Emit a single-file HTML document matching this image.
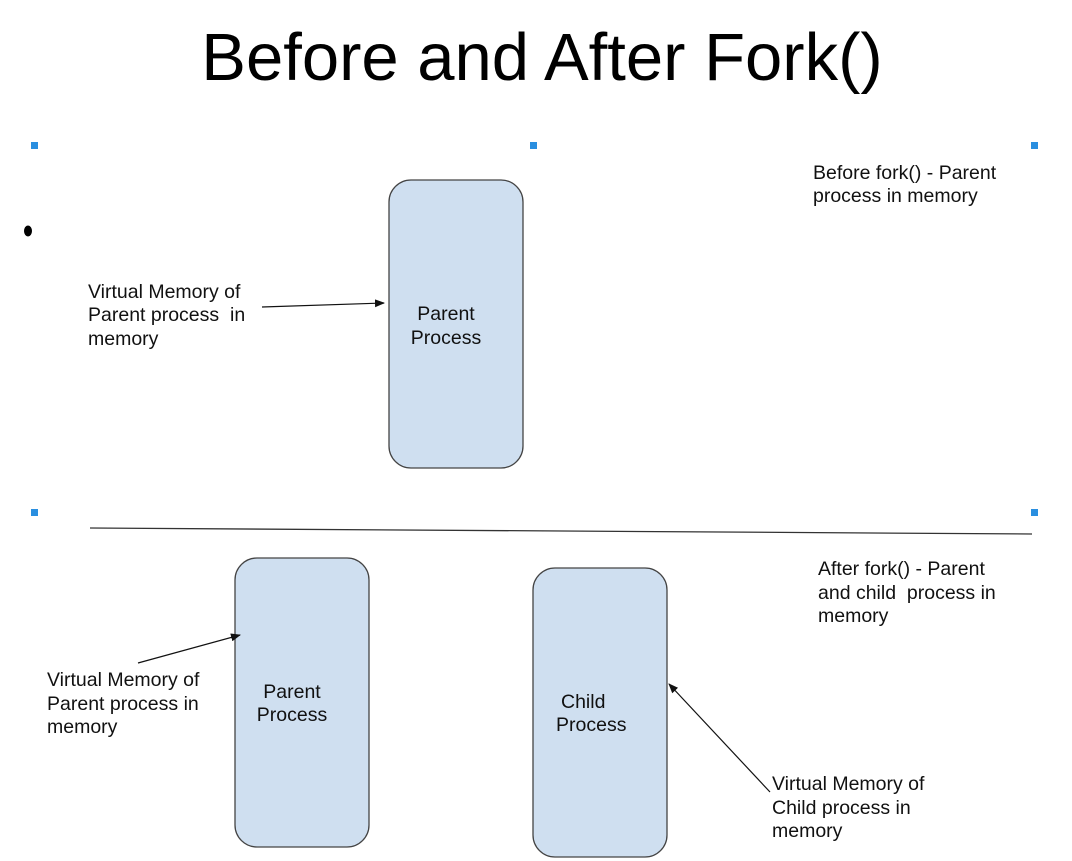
<!DOCTYPE html>
<html><head><style>html,body{margin:0;padding:0;background:#fff;width:1072px;height:861px;overflow:hidden}</style></head><body>
<svg width="1072" height="861" viewBox="0 0 1072 861" xmlns="http://www.w3.org/2000/svg" font-family="Liberation Sans, sans-serif">
<defs><marker id="a" markerWidth="10" markerHeight="8" refX="9" refY="4" orient="auto" markerUnits="userSpaceOnUse"><path d="M0,0 L10,4 L0,8 z" fill="#111"/></marker></defs>
<text x="542" y="80" font-size="67" text-anchor="middle" fill="#000">Before and After Fork()</text>
<g fill="#2a8fe0"><rect x="31" y="142" width="7" height="7"/><rect x="530" y="142" width="7" height="7"/><rect x="1031" y="142" width="7" height="7"/><rect x="31" y="509" width="7" height="7"/><rect x="1031" y="509" width="7" height="7"/></g>
<ellipse cx="28" cy="231" rx="4" ry="5.5" fill="#000"/>
<g fill="#cfdff0" stroke="#444" stroke-width="1.3">
<rect x="389" y="180" width="134" height="288" rx="22"/>
<rect x="235" y="558" width="134" height="289" rx="22"/>
<rect x="533" y="568" width="134" height="289" rx="22"/>
</g>
<line x1="90" y1="528" x2="1032" y2="534" stroke="#333" stroke-width="1.3"/>
<g stroke="#111" stroke-width="1.2" marker-end="url(#a)">
<line x1="262" y1="307" x2="384" y2="303"/>
<line x1="138" y1="663" x2="240" y2="635"/>
<line x1="770" y1="792" x2="669" y2="684"/>
</g>
<g font-size="19.5" fill="#111">
<text x="88" y="298">Virtual Memory of</text><text x="88" y="321">Parent process&#160; in</text><text x="88" y="345">memory</text>
<text x="446" y="320" text-anchor="middle">Parent</text><text x="446" y="344" text-anchor="middle">Process</text>
<text x="813" y="179">Before fork() - Parent</text><text x="813" y="202">process in memory</text>
<text x="818" y="575">After fork() - Parent</text><text x="818" y="599">and child&#160; process in</text><text x="818" y="622">memory</text>
<text x="47" y="686">Virtual Memory of</text><text x="47" y="710">Parent process in</text><text x="47" y="733">memory</text>
<text x="292" y="698" text-anchor="middle">Parent</text><text x="292" y="721" text-anchor="middle">Process</text>
<text x="561" y="708">Child</text><text x="556" y="731">Process</text>
<text x="772" y="790">Virtual Memory of</text><text x="772" y="814">Child process in</text><text x="772" y="837">memory</text>
</g>
</svg>
</body></html>
